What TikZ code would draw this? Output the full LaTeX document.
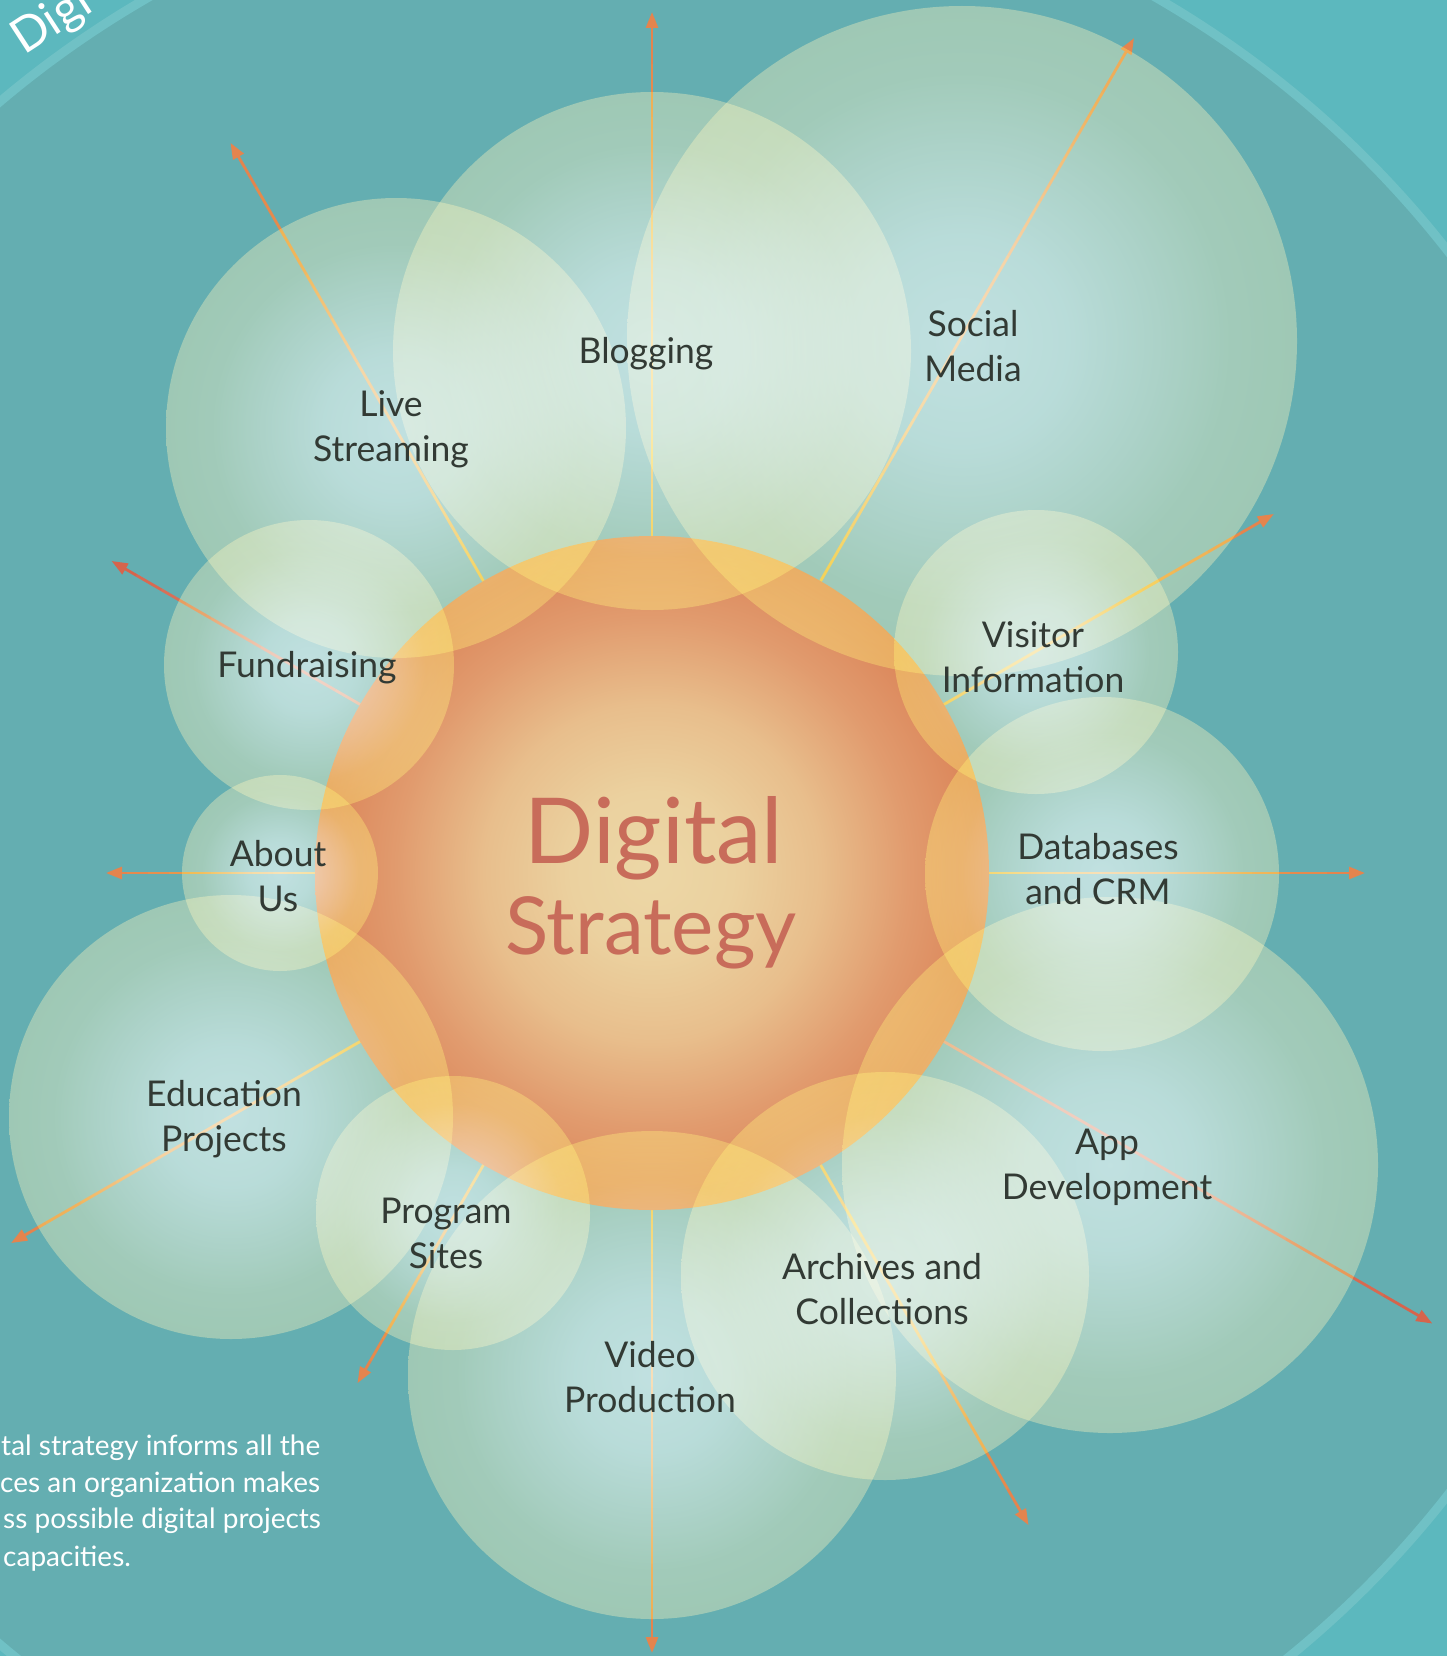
\documentclass[tikz,border=0pt]{standalone}
\usepackage{fontspec}
\setmainfont{Lato}
\usetikzlibrary{calc,arrows.meta}
\definecolor{bgout}{RGB}{92,184,190}
\definecolor{bgin}{RGB}{100,174,177}
\definecolor{ringc}{RGB}{112,193,197}
\definecolor{txt}{RGB}{50,58,52}
\definecolor{ttl}{RGB}{200,108,90}
\definecolor{ly}{RGB}{236,186,72}
\definecolor{lo}{RGB}{228,132,78}
\definecolor{lpa}{RGB}{222,150,128}
\definecolor{lpb}{RGB}{214,100,76}
\definecolor{sa}{RGB}{236,215,166}
\definecolor{sb}{RGB}{235,209,159}
\definecolor{sc}{RGB}{232,190,140}
\definecolor{sd}{RGB}{225,155,110}
\definecolor{se}{RGB}{219,132,88}
\definecolor{ba}{RGB}{152,158,154}
\definecolor{bb}{RGB}{138,142,128}
\definecolor{bc}{RGB}{116,110,70}
\definecolor{bd}{RGB}{100,88,25}
\definecolor{be}{RGB}{95,80,10}
\pgfdeclareradialshading{sunshade}{\pgfpoint{0bp}{0bp}}{color(0bp)=(sa); color(6bp)=(sb); color(12.5bp)=(sc); color(19bp)=(sd); color(25bp)=(se); color(50bp)=(se)}
\pgfdeclareradialshading{bub}{\pgfpoint{0bp}{0bp}}{color(0bp)=(ba); color(8bp)=(bb); color(15bp)=(bc); color(20bp)=(bd); color(25bp)=(be); color(50bp)=(be)}
\tikzset{
  lbl/.style={font=\fontsize{35.5}{45}\selectfont, text=txt, align=center},
  ttlfont/.style={text=ttl, anchor=base, inner sep=0pt},
  note/.style={font=\fontsize{28}{37}\selectfont, text=white, anchor=base west, inner sep=0pt},
  conn/.style={line width=2.8pt},
  bubble/.style={shading=bub, blend mode=screen}
}
\begin{document}
\begin{tikzpicture}[x=1pt,y=-1pt]
\clip (0,0) rectangle (1447,1656);
\fill[bgout] (0,0) rectangle (1447,1656);
\coordinate (O) at (652,873);
\fill[bgin] (O) circle[radius=1010pt];
\draw[ringc, line width=9pt] (O) circle[radius=1010pt];
% connectors
\foreach \nm/\a/\L/\ca/\cb in {blog/-90/861/ly/lo, soc/-60/964/ly/lo, vis/-30/718/ly/lo, db/0/713/ly/lo, app/30/901/lpa/lpb, arch/60/753/ly/lo, video/90/780/ly/lo, prog/120/589/ly/lo, edu/150/740/ly/lo, about/180/546/ly/lo, fund/210/624/lpa/lpb, live/240/843/ly/lo}{
  \coordinate (s-\nm) at ($(O)+(\a:337)$);
  \coordinate (e-\nm) at ($(O)+(\a:\L)$);
  \foreach \k [evaluate=\k as \fa using \k/10, evaluate=\k as \fb using (\k+1)/10, evaluate=\k as \pc using int(\k*11)] in {0,...,8}
    \draw[conn, draw=\cb!\pc!\ca] ($(s-\nm)!\fa!(e-\nm)$) -- ($(s-\nm)!\fb!(e-\nm)$);
  \draw[conn, draw=\cb, -{Triangle[length=16pt,width=12pt]}] ($(s-\nm)!0.9!(e-\nm)$) -- (e-\nm);
}
% sun
\shade[shading=sunshade] (O) circle[radius=337pt];
% bubbles
\foreach \cx/\cy/\r in {652/351/259, 962/341/335, 396/428/230, 309/665/145, 280/873/98, 231/1117/222, 453/1213/137, 652/1375/244, 885/1276/204, 1110/1165/268, 1102/874/177, 1036/652/142}
  \shade[bubble] (\cx,\cy) circle[radius=\r pt];
% labels
\node[lbl] (l-blog) at (646,354) {Blogging};
\node[lbl] (l-soc) at (973,346) {Social\\Media};
\node[lbl] (l-live) at (391,429) {Live\\Streaming};
\node[lbl] (l-fund) at (307,668) {Fundraising};
\node[lbl] (l-about) at (278,876) {About\\Us};
\node[lbl] (l-edu) at (224,1119) {Education\\Projects};
\node[lbl] (l-prog) at (446,1233) {Program\\Sites};
\node[lbl] (l-video) at (650,1377) {Video\\Production};
\node[lbl] (l-arch) at (882,1289) {Archives and\\Collections};
\node[lbl] (l-app) at (1107,1167) {App\\Development};
\node[lbl] (l-db) at (1098,869) {Databases\\and CRM};
\node[lbl] (l-vis) at (1033,657) {Visitor\\Information};
% title
\node[ttlfont, font=\fontsize{91}{95}\selectfont] (t1) at (654,863) {Digital};
\node[ttlfont, font=\fontsize{80}{95}\selectfont] (t2) at (651,954) {Strategy};
% corner texts
\node[font=\fontsize{48}{48}\selectfont, text=white, anchor=base west, inner sep=0pt, rotate=33] (corner) at (24,56) {Digi};
\node[note] (p1) at (1,1455) {tal strategy informs all the};
\node[note] (p2) at (0,1492) {ces an organization makes};
\node[note] (p3) at (3,1528) {ss possible digital projects};
\node[note] (p4) at (3,1566) {capacities.};
\end{tikzpicture}
\end{document}
